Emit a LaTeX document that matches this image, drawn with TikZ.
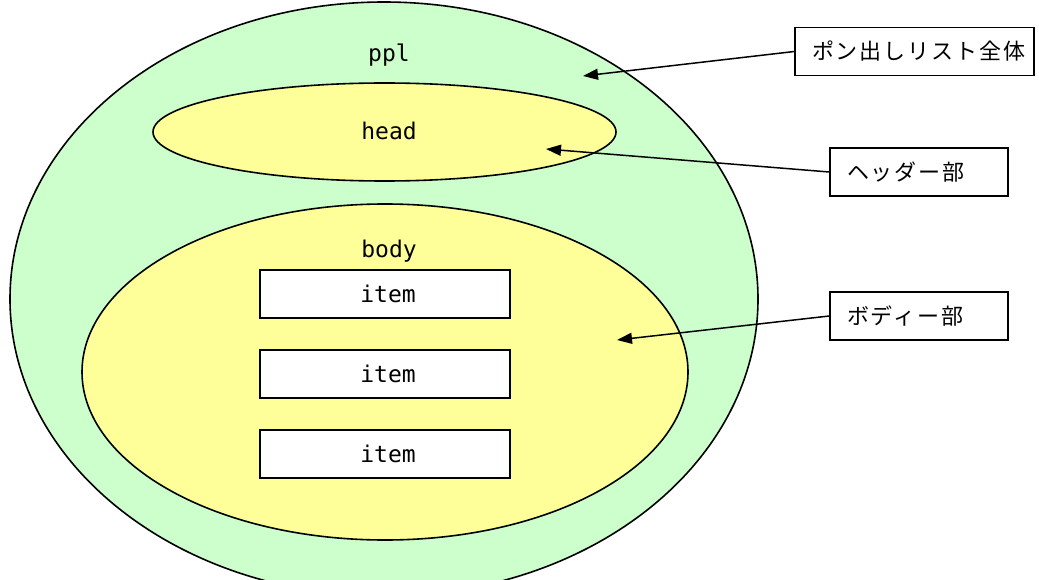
\documentclass[tikz,border=0pt]{standalone}
\usepackage{fontspec}
\newfontfamily\cjk[LetterSpace=9]{Noto Sans CJK JP}
\newfontfamily\mono{DejaVu Sans Mono}
\usetikzlibrary{shapes.geometric,arrows.meta}
\definecolor{outergreen}{HTML}{CCFFCC}
\definecolor{inneryellow}{HTML}{FFFF99}
\tikzset{
  blob/.style={ellipse, draw=black, line width=1.6pt, inner sep=0pt},
  itembox/.style={draw=black, line width=1.6pt, fill=white, minimum width=250pt, minimum height=48pt, inner sep=0pt, font=\mono\fontsize{23}{26}\selectfont},
  lbl/.style={font=\mono\fontsize{23}{26}\selectfont, inner sep=0pt},
  callout/.style={draw=black, line width=1.4pt, fill=white, minimum height=48pt, inner xsep=17pt, inner ysep=0pt, align=left, font=\cjk\fontsize{22}{24}\selectfont},
  pointer/.style={line width=1.5pt, -{Triangle[length=15pt,width=11pt]}}
}
\begin{document}
\begin{tikzpicture}[x=1pt,y=-1pt]
\useasboundingbox[fill=white] (0,0) rectangle (1039,580);
\clip (0,0) rectangle (1039,580);
\node[blob, fill=outergreen, minimum width=748pt, minimum height=594pt] (ppl) at (384,299) {};
\node[blob, fill=inneryellow, minimum width=463pt, minimum height=98pt] (head) at (384.5,132) {};
\node[blob, fill=inneryellow, minimum width=606pt, minimum height=336pt] (body) at (385,372) {};
\node[lbl] (ppltext) at (389,55) {ppl};
\node[lbl] (headtext) at (389,131) {head};
\node[lbl] (bodytext) at (389,251) {body};
\node[itembox] (item1) at (385,294) {\hspace*{6pt}item};
\node[itembox] (item2) at (385,374) {\hspace*{6pt}item};
\node[itembox] (item3) at (385,454) {\hspace*{6pt}item};
\node[callout, text width=205pt] (c1) at (914.5,51.5) {ポン出しリスト全体};
\node[callout, text width=144pt] (c2) at (919,172) {ヘッダー部};
\node[callout, text width=144pt] (c3) at (919,316) {ボディー部};
\coordinate (t1) at (583,76);
\coordinate (t2) at (546,149);
\coordinate (t3) at (617,340);
\draw[pointer] (c1.west) -- (t1);
\draw[pointer] (c2.west) -- (t2);
\draw[pointer] (c3.west) -- (t3);
\end{tikzpicture}
\end{document}
